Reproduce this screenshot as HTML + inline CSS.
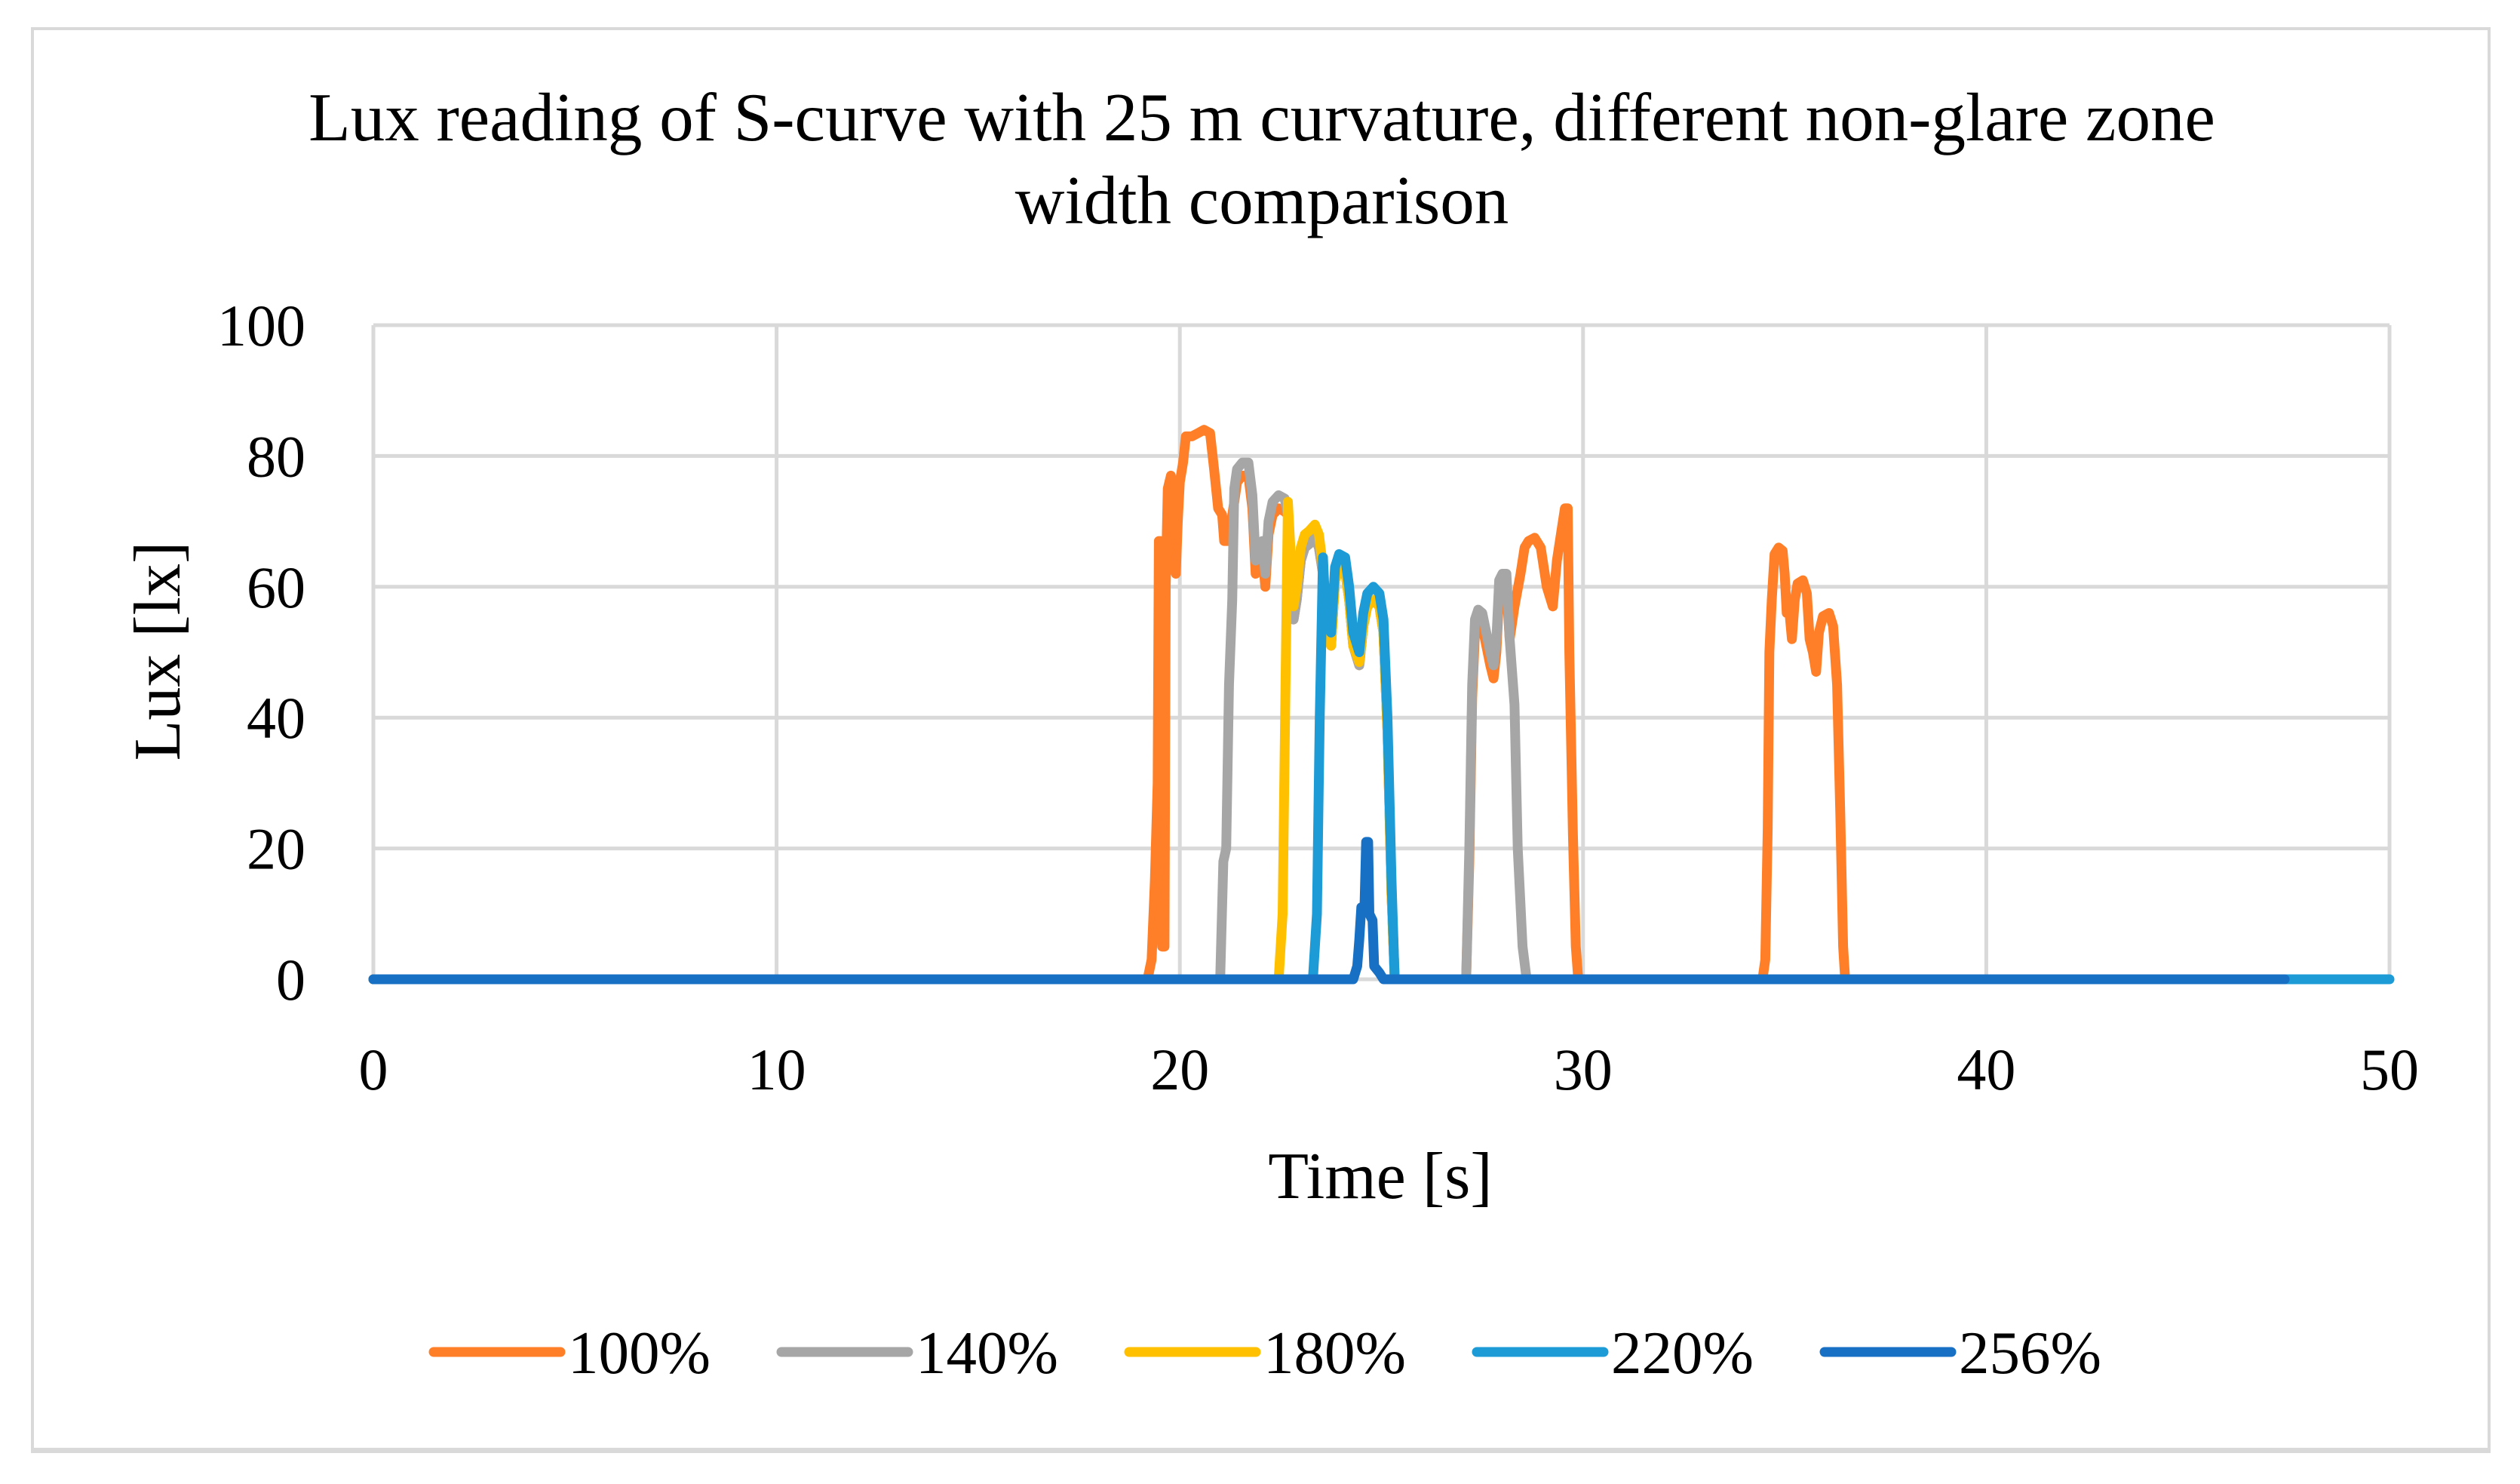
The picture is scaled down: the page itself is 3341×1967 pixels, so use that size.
<!DOCTYPE html>
<html><head><meta charset="utf-8"><style>
html,body{margin:0;padding:0;background:#fff}
svg{display:block}
text{font-family:"Liberation Serif",serif;fill:#000}
</style></head><body>
<svg id="chart" width="3341" height="1967" viewBox="0 0 3341 1967">
<rect x="43" y="38" width="3257" height="1884" fill="#fff" stroke="#d9d9d9" stroke-width="4"/>
<rect x="41" y="1919" width="3261" height="7" fill="#d9d9d9"/>
<text x="1673" y="186" font-size="91" text-anchor="middle">Lux reading of S-curve with 25 m curvature, different non-glare zone</text>
<text x="1673" y="296" font-size="91" text-anchor="middle">width comparison</text>
<g id="grid"></g>
<g id="ticks"></g>
<g id="series"></g>
<text x="1830" y="1588" font-size="88" text-anchor="middle">Time [s]</text>
<text transform="translate(238,863) rotate(-90)" font-size="88" text-anchor="middle">Lux [lx]</text>
<g id="legend"></g>
</svg>
<script>
const xTicks=[0,10,20,30,40,50];
const yTicks=[0,20,40,60,80,100];
const seriesNames=["100%","140%","180%","220%","256%"];
const seriesColors=["#fe7f28","#a6a6a6","#ffc000","#1c9bd7","#1870c5"];
const t100=[0,19.2,19.3,19.38,19.45,19.48,19.52,19.56,19.62,19.65,19.7,19.78,19.85,19.9,19.95,20.0,20.08,20.15,20.3,20.45,20.6,20.75,20.85,20.95,21.05,21.1,21.2,21.35,21.42,21.55,21.7,21.8,21.88,21.95,22.05,22.12,22.2,22.3,22.45,22.6,22.68,22.75,22.82,22.9,23.0,23.1,23.2,23.35,23.45,23.55,23.62,23.75,23.85,23.95,24.1,24.2,24.3,24.45,24.55,24.65,24.8,24.95,25.05,25.15,25.25,25.33,27.1,27.18,27.25,27.32,27.4,27.5,27.6,27.7,27.78,27.85,27.92,28.0,28.1,28.18,28.3,28.45,28.55,28.65,28.8,28.95,29.1,29.25,29.35,29.45,29.55,29.62,29.66,29.75,29.82,29.88,34.45,34.52,34.58,34.62,34.68,34.75,34.85,34.95,35.0,35.05,35.12,35.18,35.25,35.32,35.45,35.55,35.62,35.7,35.78,35.85,35.95,36.1,36.2,36.3,36.38,36.45,36.5,47.3];
const v100=[0,0,3,15,30,67,67,5,5,60,75,77,71,62,70,76,79,83,83,83.5,84,83.5,78,72,71,67,67,73,76,77,77,72,62,64,65,60,68,71,72,71.5,71,63,55,58,64,66,66.5,67.5,66,62,53,51,61,63,62.5,58,51,48,54,57,58,57,53,38,13,0,0,18,43,53,54.5,54,51,48,46,50,59,60,60,52,57,62,66,67,67.5,66,60,57,64,68,72,72,50,22,5,0,0,3,23,50,58,65,66,65.5,62,56,56,52,58,60.5,61,59,52,50,47,53,55.5,56,54,45,25,5,0,0];
const t140=[0,21.0,21.08,21.15,21.22,21.3,21.35,21.42,21.55,21.7,21.8,21.88,21.95,22.05,22.12,22.2,22.3,22.45,22.6,22.68,22.75,22.82,22.9,23.0,23.1,23.2,23.35,23.45,23.55,23.62,23.75,23.85,23.95,24.1,24.2,24.3,24.45,24.55,24.65,24.8,24.95,25.05,25.15,25.25,25.33,27.1,27.18,27.25,27.32,27.4,27.5,27.6,27.7,27.78,27.85,27.92,28.0,28.1,28.18,28.3,28.38,28.5,28.6,47.3];
const v140=[0,0,18,20,45,58,75,78,79,79,74,64,66,67,62,70,73,74,73.5,71,63,55,58,64,66,66.5,67.5,66,62,53,51,61,63,62.5,58,51,48,54,57,58,57,53,38,13,0,0,20,45,55,56.5,56,53,50,48,52,61,62,62,52,42,20,5,0,0];
const t180=[0,22.45,22.55,22.62,22.68,22.75,22.82,22.9,23.0,23.1,23.2,23.35,23.45,23.55,23.62,23.75,23.85,23.95,24.1,24.2,24.3,24.45,24.55,24.65,24.8,24.95,25.05,25.15,25.25,25.33,47.3];
const v180=[0,0,10,45,73,65,57,60,66,68,68.5,69.5,68,63,53,51,61,63,62.5,58,51,48.5,54,57,58,57,53,38,13,0,0];
const t220=[0,23.3,23.4,23.47,23.55,23.62,23.75,23.85,23.95,24.1,24.2,24.3,24.45,24.55,24.65,24.8,24.95,25.05,25.15,25.25,25.33,50];
const v220=[0,0,10,40,64.5,55,53,63,65,64.5,60,53,50,56,59,60,59,55,40,15,0,0];
const t256=[0,24.3,24.4,24.45,24.5,24.58,24.62,24.67,24.7,24.78,24.82,24.95,25.05,47.4];
const v256=[0,0,2,6,11,11,21,21,10,9,2,1,0,0];
const seriesT=[t100,t140,t180,t220,t256];
const seriesV=[v100,v140,v180,v220,v256];

const X0=495,X1=3168,Y0=1298,Y1=431;
const xs=t=>X0+(t-0)/(50-0)*(X1-X0);
const ys=v=>Y0-(v-0)/(100-0)*(Y0-Y1);
const NS="http://www.w3.org/2000/svg";
const grid=document.getElementById('grid'),ticks=document.getElementById('ticks'),ser=document.getElementById('series'),leg=document.getElementById('legend');
function mk(tag,attrs,parent){const e=document.createElementNS(NS,tag);for(const k in attrs)e.setAttribute(k,attrs[k]);parent.appendChild(e);return e;}
yTicks.forEach(v=>{
  const l=mk('line',{x1:X0,x2:X1,y1:ys(v),y2:ys(v),stroke:'#d9d9d9','stroke-width':5},grid);
  
  
  const t=mk('text',{x:405,y:ys(v)+27,'font-size':78,'text-anchor':'end'},ticks);
  t.textContent=v;
  
  
});
xTicks.forEach(v=>{
  const l=mk('line',{x1:xs(v),x2:xs(v),y1:Y1,y2:Y0,stroke:'#d9d9d9','stroke-width':5},grid);
  
  
  const t=mk('text',{x:xs(v),y:1444,'font-size':78,'text-anchor':'middle'},ticks);
  t.textContent=v;
  
  
});
seriesT.forEach((T,i)=>{
  const V=seriesV[i];
  const d=T.map((t,j)=>(j?'L':'M')+xs(t).toFixed(1)+','+ys(V[j]).toFixed(1)).join('');
  const p=mk('path',{d:d,fill:'none',stroke:seriesColors[i],'stroke-width':13,'stroke-linejoin':'round','stroke-linecap':'round'},ser);
  
  
});
const legX=[575,1036,1497,1958,2419];
seriesNames.forEach((n,i)=>{
  const g=mk('g',{},leg);
  
  
  mk('line',{x1:legX[i],x2:legX[i]+168,y1:1792,y2:1792,stroke:seriesColors[i],'stroke-width':13,'stroke-linecap':'round'},g);
  const t=mk('text',{x:legX[i]+178,y:1820,'font-size':81},g);
  t.textContent=n;
});
</script>
</body></html>
